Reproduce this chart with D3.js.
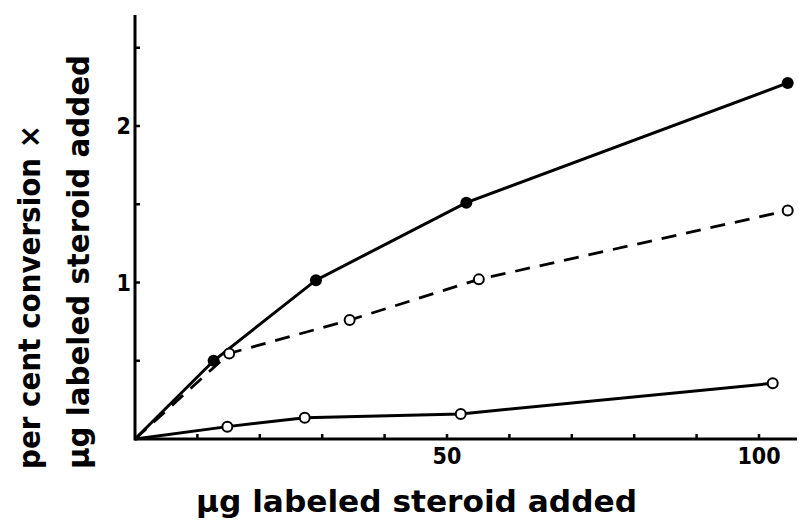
<!DOCTYPE html>
<html>
<head>
<meta charset="utf-8">
<script src="https://cdn.jsdelivr.net/npm/d3@7"></script>
<style>
  body { margin: 0; background: #fff; }
  svg { display: block; }
  .tickLabel { font-family: "DejaVu Sans Condensed", "DejaVu Sans"; font-weight: bold; font-size: 23px; }
  .title { font-family: "DejaVu Sans", sans-serif; font-weight: bold; }
</style>
</head>
<body>
<script>
(function() {

  // Data
  var filledX = [0, 12.6, 29, 53.1, 104.6];
  var filledY = [0, 0.50, 1.015, 1.51, 2.275];

  var dashedX = [0, 15.1, 34.4, 55.1, 104.6];
  var dashedY = [0, 0.547, 0.76, 1.02, 1.46];

  var lowX = [0, 14.8, 27.2, 52.2, 102.2];
  var lowY = [0, 0.079, 0.136, 0.16, 0.356];

  var xTicks = [10, 20, 30, 40, 50, 60, 70, 80, 90, 100];
  var xTickLabels = [50, 100];
  var yTicks = [0.5, 1, 1.5, 2, 2.5];
  var yTickLabels = [1, 2];

  var width = 799, height = 526;

  var svg = d3.select("body")
      .append("svg")
      .attr("width", width)
      .attr("height", height);

  // Scales
  var x = d3.scaleLinear()
      .domain([0, 100])
      .range([135, 759]);
  var y = d3.scaleLinear()
      .domain([0, 2])
      .range([439, 126]);

  // Axis lines
  svg.append("line")
      .attr("x1", x(0)).attr("x2", 797)
      .attr("y1", y(0)).attr("y2", y(0))
      .attr("stroke", "#000").attr("stroke-width", 3);
  svg.append("line")
      .attr("x1", x(0)).attr("x2", x(0))
      .attr("y1", y(0) + 1.5).attr("y2", 15)
      .attr("stroke", "#000").attr("stroke-width", 3);

  // Inward ticks
  svg.selectAll(".xTick")
      .data(xTicks)
      .enter()
      .append("line")
      .attr("class", "xTick")
      .attr("x1", function(d) { return x(d); })
      .attr("x2", function(d) { return x(d); })
      .attr("y1", y(0)).attr("y2", y(0) - 5)
      .attr("stroke", "#000").attr("stroke-width", 2.5);
  svg.selectAll(".yTick")
      .data(yTicks)
      .enter()
      .append("line")
      .attr("class", "yTick")
      .attr("x1", x(0)).attr("x2", x(0) + 5)
      .attr("y1", function(d) { return y(d); })
      .attr("y2", function(d) { return y(d); })
      .attr("stroke", "#000").attr("stroke-width", 2.5);

  // Tick labels
  svg.selectAll(".xLab")
      .data(xTickLabels)
      .enter()
      .append("text")
      .attr("class", "tickLabel")
      .attr("x", function(d) { return x(d); })
      .attr("y", 464)
      .attr("text-anchor", "middle")
      .text(function(d) { return d; });
  svg.selectAll(".yLab")
      .data(yTickLabels)
      .enter()
      .append("text")
      .attr("class", "tickLabel")
      .attr("x", 131)
      .attr("y", function(d) { return y(d) + 8; })
      .attr("text-anchor", "end")
      .text(function(d) { return d; });

  // Axis titles
  svg.append("text")
      .attr("class", "title")
      .attr("x", 196)
      .attr("y", 512)
      .attr("textLength", 441)
      .attr("lengthAdjust", "spacingAndGlyphs")
      .style("font-size", "31px")
      .text("µg labeled steroid added");

  var yTitle = svg.append("g")
      .attr("transform", "translate(0,469) rotate(-90)");
  yTitle.append("text")
      .attr("class", "title")
      .attr("x", 0).attr("y", 40)
      .attr("textLength", 344)
      .attr("lengthAdjust", "spacingAndGlyphs")
      .style("font-size", "30px")
      .text("per cent conversion ×");
  yTitle.append("text")
      .attr("class", "title")
      .attr("x", 0).attr("y", 89)
      .attr("textLength", 414)
      .attr("lengthAdjust", "spacingAndGlyphs")
      .style("font-size", "30px")
      .text("µg labeled steroid added");

  // Series lines
  var line = d3.line()
      .x(function(d) { return x(d[0]); })
      .y(function(d) { return y(d[1]); });

  function pairs(xs, ys) {
    return xs.map(function(v, i) { return [v, ys[i]]; });
  }

  var filled = pairs(filledX, filledY);
  var dashed = pairs(dashedX, dashedY);
  var low = pairs(lowX, lowY);

  svg.append("path").datum(dashed)
      .attr("d", line)
      .attr("fill", "none").attr("stroke", "#000")
      .attr("stroke-width", 2.8)
      .attr("stroke-dasharray", "15,10");
  svg.append("path").datum(filled)
      .attr("d", line)
      .attr("fill", "none").attr("stroke", "#000")
      .attr("stroke-width", 3);
  svg.append("path").datum(low)
      .attr("d", line)
      .attr("fill", "none").attr("stroke", "#000")
      .attr("stroke-width", 3);

  // Markers (skip the origin)
  svg.selectAll(".filledDot")
      .data(filled.slice(1))
      .enter()
      .append("circle")
      .attr("cx", function(d) { return x(d[0]); })
      .attr("cy", function(d) { return y(d[1]); })
      .attr("r", 6)
      .attr("fill", "#000");
  svg.selectAll(".openDot")
      .data(dashed.slice(1).concat(low.slice(1)))
      .enter()
      .append("circle")
      .attr("cx", function(d) { return x(d[0]); })
      .attr("cy", function(d) { return y(d[1]); })
      .attr("r", 5)
      .attr("fill", "#fff")
      .attr("stroke", "#000")
      .attr("stroke-width", 2);

})();
</script>
</body>
</html>
